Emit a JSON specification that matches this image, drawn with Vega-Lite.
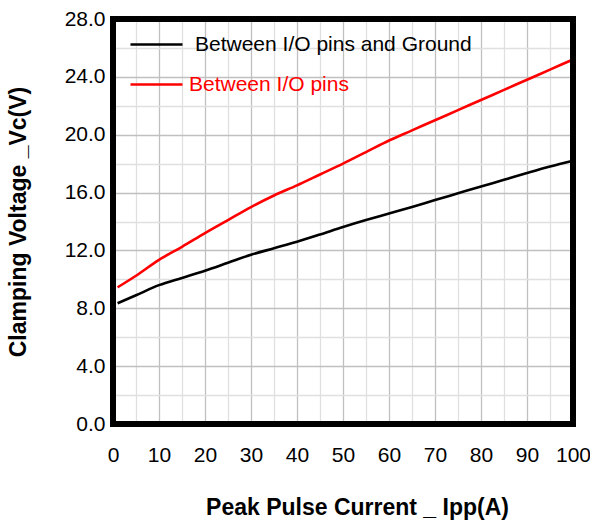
{
  "$schema": "https://vega.github.io/schema/vega-lite/v6.json",
  "width": 460,
  "height": 405,
  "autosize": {"type": "none"},
  "padding": {"left": 113, "top": 19, "right": 17, "bottom": 100},
  "background": "white",
  "view": {"stroke": null},
  "config": {
    "font": "Liberation Sans",
    "axis": {
      "domain": false,
      "ticks": false,
      "labelFont": "Liberation Sans",
      "labelFontSize": 21,
      "labelColor": "black",
      "titleFont": "Liberation Sans",
      "titleFontSize": 23,
      "titleFontWeight": "bold",
      "titleColor": "black"
    }
  },
  "resolve": {"axis": {"x": "independent", "y": "independent"}},
  "data": {
    "values": [
      {"I": 1, "V": 8.35, "s": "Between I/O pins and Ground"},
      {"I": 5, "V": 8.9, "s": "Between I/O pins and Ground"},
      {"I": 10, "V": 9.6, "s": "Between I/O pins and Ground"},
      {"I": 15, "V": 10.1, "s": "Between I/O pins and Ground"},
      {"I": 20, "V": 10.6, "s": "Between I/O pins and Ground"},
      {"I": 25, "V": 11.15, "s": "Between I/O pins and Ground"},
      {"I": 30, "V": 11.7, "s": "Between I/O pins and Ground"},
      {"I": 35, "V": 12.15, "s": "Between I/O pins and Ground"},
      {"I": 40, "V": 12.6, "s": "Between I/O pins and Ground"},
      {"I": 45, "V": 13.1, "s": "Between I/O pins and Ground"},
      {"I": 50, "V": 13.62, "s": "Between I/O pins and Ground"},
      {"I": 55, "V": 14.1, "s": "Between I/O pins and Ground"},
      {"I": 60, "V": 14.55, "s": "Between I/O pins and Ground"},
      {"I": 65, "V": 15.0, "s": "Between I/O pins and Ground"},
      {"I": 70, "V": 15.48, "s": "Between I/O pins and Ground"},
      {"I": 75, "V": 15.95, "s": "Between I/O pins and Ground"},
      {"I": 80, "V": 16.42, "s": "Between I/O pins and Ground"},
      {"I": 85, "V": 16.88, "s": "Between I/O pins and Ground"},
      {"I": 90, "V": 17.35, "s": "Between I/O pins and Ground"},
      {"I": 95, "V": 17.8, "s": "Between I/O pins and Ground"},
      {"I": 100, "V": 18.2, "s": "Between I/O pins and Ground"},
      {"I": 1, "V": 9.45, "s": "Between I/O pins"},
      {"I": 5, "V": 10.25, "s": "Between I/O pins"},
      {"I": 10, "V": 11.35, "s": "Between I/O pins"},
      {"I": 15, "V": 12.25, "s": "Between I/O pins"},
      {"I": 20, "V": 13.2, "s": "Between I/O pins"},
      {"I": 25, "V": 14.1, "s": "Between I/O pins"},
      {"I": 30, "V": 15.0, "s": "Between I/O pins"},
      {"I": 35, "V": 15.8, "s": "Between I/O pins"},
      {"I": 40, "V": 16.5, "s": "Between I/O pins"},
      {"I": 45, "V": 17.25, "s": "Between I/O pins"},
      {"I": 50, "V": 18.0, "s": "Between I/O pins"},
      {"I": 55, "V": 18.8, "s": "Between I/O pins"},
      {"I": 60, "V": 19.6, "s": "Between I/O pins"},
      {"I": 65, "V": 20.3, "s": "Between I/O pins"},
      {"I": 70, "V": 21.0, "s": "Between I/O pins"},
      {"I": 75, "V": 21.7, "s": "Between I/O pins"},
      {"I": 80, "V": 22.4, "s": "Between I/O pins"},
      {"I": 85, "V": 23.1, "s": "Between I/O pins"},
      {"I": 90, "V": 23.8, "s": "Between I/O pins"},
      {"I": 95, "V": 24.5, "s": "Between I/O pins"},
      {"I": 100, "V": 25.2, "s": "Between I/O pins"}
    ]
  },
  "layer": [
    {
      "mark": {"type": "line", "strokeWidth": 2.6, "interpolate": "monotone"},
      "encoding": {
        "x": {
          "field": "I",
          "type": "quantitative",
          "scale": {"domain": [0, 100], "nice": false},
          "axis": {
            "title": "Peak Pulse Current _ Ipp(A)",
            "grid": true,
            "gridWidth": 1.3,
            "zindex": 0,
            "values": [0, 5, 10, 15, 20, 25, 30, 35, 40, 45, 50, 55, 60, 65, 70, 75, 80, 85, 90, 95, 100],
            "labelExpr": "datum.value % 10 === 0 ? datum.value : ''",
            "labelPadding": 20,
            "labelFlush": false,
            "titlePadding": 31,
            "titleX": 244,
            "gridOpacity": {"condition": {"test": "datum.value === 0 || datum.value === 100", "value": 0}, "value": 1},
            "gridColor": {"condition": {"test": "datum.value % 10 === 0", "value": "#c0c0c0"}, "value": "#e0e0e0"}
          }
        },
        "y": {
          "field": "V",
          "type": "quantitative",
          "scale": {"domain": [0, 28], "nice": false},
          "axis": {
            "title": "Clamping Voltage _Vc(V)",
            "grid": true,
            "gridWidth": 1.3,
            "zindex": 0,
            "values": [0, 2, 4, 6, 8, 10, 12, 14, 16, 18, 20, 22, 24, 26, 28],
            "labelExpr": "datum.value % 4 === 0 ? format(datum.value, '.1f') : ''",
            "labelPadding": 8,
            "labelFlush": false,
            "titlePadding": 34,
            "gridOpacity": {"condition": {"test": "datum.value === 0 || datum.value === 28", "value": 0}, "value": 1},
            "gridColor": {"condition": {"test": "datum.value % 4 === 0", "value": "#c0c0c0"}, "value": "#e0e0e0"}
          }
        },
        "color": {
          "field": "s",
          "type": "nominal",
          "sort": ["Between I/O pins and Ground", "Between I/O pins"],
          "scale": {"domain": ["Between I/O pins and Ground", "Between I/O pins"], "range": ["black", "#ff0000"]},
          "legend": {
            "title": null,
            "orient": "none",
            "legendX": 22,
            "legendY": 4,
            "padding": 0,
            "rowPadding": 8,
            "symbolType": "M-1.3,0H1.3",
            "symbolSize": 1600,
            "symbolStrokeWidth": 2.6,
            "labelFont": "Liberation Sans",
            "labelFontSize": 21,
            "labelOffset": 17,
            "labelLimit": 400,
            "encode": {
              "labels": {
                "update": {
                  "fill": {"signal": "datum.value === 'Between I/O pins' ? '#ff0000' : 'black'"},
                  "dx": {"signal": "datum.value === 'Between I/O pins' ? -6 : 0"}
                }
              }
            }
          }
        }
      }
    },
    {
      "mark": {"type": "rect", "fill": "transparent", "stroke": "black", "strokeWidth": 6, "clip": false},
      "encoding": {
        "x": {"datum": 0, "type": "quantitative", "axis": null},
        "x2": {"datum": 100},
        "y": {"datum": 0, "type": "quantitative", "axis": null},
        "y2": {"datum": 28}
      }
    }
  ]
}
